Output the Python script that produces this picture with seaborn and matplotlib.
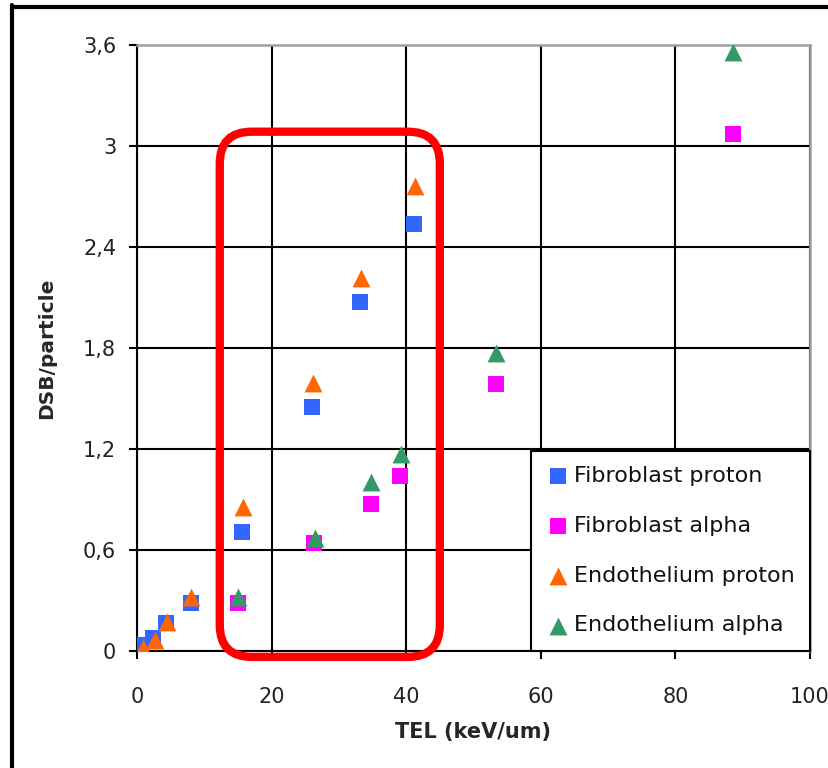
import matplotlib
matplotlib.use("Agg")
import matplotlib.pyplot as plt
import seaborn as sns
import pandas as pd
from matplotlib.ticker import FuncFormatter, FixedLocator
from matplotlib.patches import FancyBboxPatch
from matplotlib.lines import Line2D
from matplotlib.transforms import IdentityTransform

# Double-strand breaks per particle as a function of TEL
fib_proton_tel = [0.45, 2.4, 4.3, 8.0, 15.6, 26.0, 33.1, 41.1]
fib_proton_dsb = [0.036, 0.077, 0.166, 0.285, 0.708, 1.452, 2.072, 2.535]

fib_alpha_tel = [15.0, 26.3, 34.7, 39.1, 53.4, 88.5]
fib_alpha_dsb = [0.285, 0.643, 0.873, 1.04, 1.585, 3.07]

endo_proton_tel = [0.9, 2.7, 4.5, 8.0, 15.7, 26.2, 33.3, 41.3]
endo_proton_dsb = [0.02, 0.065, 0.17, 0.32, 0.854, 1.594, 2.215, 2.763]

endo_alpha_tel = [15.0, 26.4, 34.8, 39.2, 53.4, 88.6]
endo_alpha_dsb = [0.32, 0.67, 1.006, 1.169, 1.772, 3.56]

series_names = ["Fibroblast proton", "Fibroblast alpha",
                "Endothelium proton", "Endothelium alpha"]
series_colors = ["#3366FF", "#FF00FF", "#FF6600", "#339966"]
series_markers = ["s", "s", "^", "^"]

x_ticks = [0, 20, 40, 60, 80, 100]
y_ticks = [0, 0.6, 1.2, 1.8, 2.4, 3.0, 3.6]

frames = []
for name, xs, ys in zip(series_names,
                        [fib_proton_tel, fib_alpha_tel, endo_proton_tel, endo_alpha_tel],
                        [fib_proton_dsb, fib_alpha_dsb, endo_proton_dsb, endo_alpha_dsb]):
    frames.append(pd.DataFrame({"TEL": xs, "DSB": ys, "series": name}))
df = pd.concat(frames, ignore_index=True)

sns.set_theme(style="white")
plt.rcParams["font.family"] = ["DejaVu Sans"]

fig = plt.figure(figsize=(8.29, 7.68), dpi=100)
ax = fig.add_axes([137 / 829, 1 - 651 / 768, (810 - 137) / 829, (651 - 45) / 768])

for name, color, marker in zip(series_names, series_colors, series_markers):
    sub = df[df["series"] == name]
    sns.scatterplot(data=sub, x="TEL", y="DSB", ax=ax, color=color, marker=marker,
                    s=125 if marker == "s" else 165, linewidth=0, label=name, zorder=3)

ax.set_xlim(0, 100)
ax.set_ylim(0, 3.6)
ax.xaxis.set_major_locator(FixedLocator(x_ticks))
ax.yaxis.set_major_locator(FixedLocator(y_ticks))
ax.yaxis.set_major_formatter(FuncFormatter(lambda v, p: f"{v:g}".replace(".", ",")))

ax.grid(True, color="black", linewidth=1.5)
ax.set_axisbelow(True)
for side in ["left", "bottom"]:
    ax.spines[side].set_color("black")
    ax.spines[side].set_linewidth(1.5)
for side in ["top", "right"]:
    ax.spines[side].set_color("#a0a0a0")
    ax.spines[side].set_linewidth(1.8)

ax.tick_params(axis="both", which="major", direction="out", length=6, width=1.5,
               color="black", labelsize=15, labelcolor="#222222")
ax.tick_params(axis="y", left=True, pad=9)
ax.tick_params(axis="x", bottom=True, pad=20)

ax.set_xlabel("TEL (keV/um)", fontsize=15, fontweight="bold", labelpad=11)
ax.set_ylabel("DSB/particle", fontsize=14.5, fontweight="bold", labelpad=19)

leg = ax.legend(loc="lower right", bbox_to_anchor=(1.0, 0.0), borderaxespad=0,
                frameon=True, fancybox=False, edgecolor="black", fontsize=16,
                labelspacing=1.34, handletextpad=0.2, borderpad=0.7,
                handlelength=1.0, framealpha=1)
leg.get_frame().set_linewidth(1.5)
for t in leg.get_texts():
    t.set_color("#111111")

# Outer chart frame along the left and top edges
fig.add_artist(Line2D([12.5 / 829, 12.5 / 829], [0, 1 - 5 / 768],
                      transform=fig.transFigure, color="black", linewidth=3))
fig.add_artist(Line2D([12.5 / 829, 1], [1 - 6.5 / 768, 1 - 6.5 / 768],
                      transform=fig.transFigure, color="black", linewidth=3))

# Rounded highlight box around the 12-45 keV/um region
x0, y0 = ax.transData.transform((12.3, -0.035))
x1, y1 = ax.transData.transform((45.0, 3.085))
box = FancyBboxPatch((x0, y0), x1 - x0, y1 - y0,
                     boxstyle="round,pad=0,rounding_size=32",
                     transform=IdentityTransform(), fill=False,
                     edgecolor="#FF0000", linewidth=6, zorder=10)
fig.add_artist(box)

fig.savefig("out.png", dpi=100)
